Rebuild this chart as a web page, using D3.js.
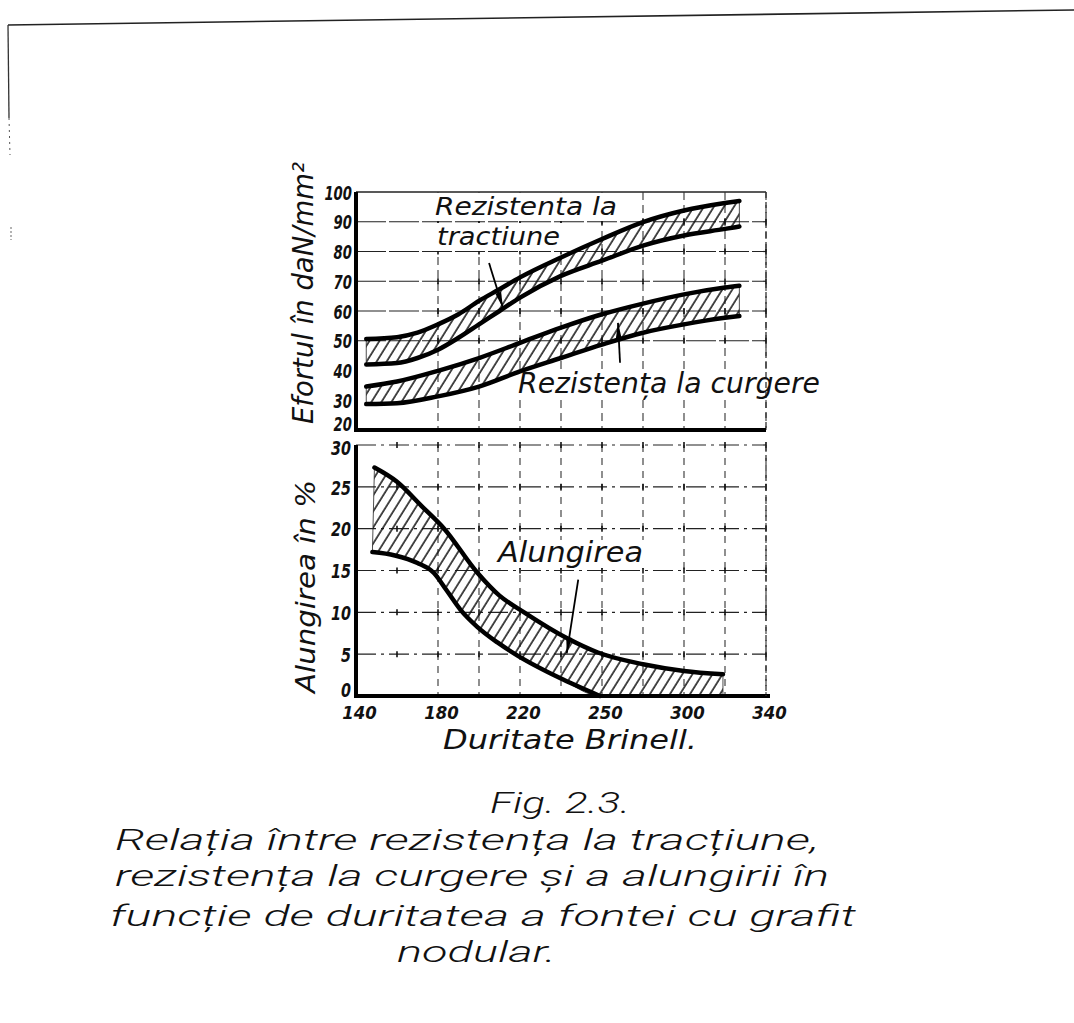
<!DOCTYPE html>
<html lang="ro">
<head>
<meta charset="UTF-8">
<title>Fig. 2.3</title>
<style type="text/css">
  body { margin: 0; background: #fff; }
  svg text { font-family: "DejaVu Sans", "Liberation Sans", sans-serif; font-style: italic; fill: #111; }
  svg text.cap { font-family: "Roboto", "DejaVu Sans", sans-serif; font-weight: 300; }
</style>
<script src="https://cdn.jsdelivr.net/npm/d3@7/dist/d3.min.js"></script>
</head>
<body>
<script type="text/javascript">
// duritate Brinell (HB) pentru fiecare curba
var hbTract = [145, 160, 170, 180, 190, 200, 210, 220, 240, 260, 280, 300, 320, 327];
var tractSus = [50.6, 51.2, 52.7, 55.5, 58.9, 63.4, 67.3, 71.3, 78.0, 84.2, 89.9, 93.8, 96.3, 97.0];
var tractJos = [42.0, 42.5, 44.2, 47.0, 51.0, 55.5, 60.0, 64.5, 71.8, 76.9, 82.0, 85.4, 87.6, 88.4];

var hbCurg = [145, 160, 180, 200, 220, 240, 260, 280, 300, 320, 327];
var curgSus = [34.6, 36.3, 39.9, 44.2, 49.3, 54.4, 58.9, 62.5, 65.6, 67.9, 68.5];
var curgJos = [28.7, 29.0, 31.3, 34.6, 39.7, 44.2, 48.7, 52.7, 55.5, 57.7, 58.3];

var hbAlungSus = [149, 160, 172, 183, 199, 210, 222, 243, 258, 280, 300, 319];
var alungSus = [27.3, 25.6, 22.7, 20.0, 14.8, 12.0, 10.0, 6.9, 5.2, 3.8, 3.0, 2.6];
var hbAlungJos = [148, 159, 170, 178, 184, 191, 199, 209, 219, 239, 259, 319];
var alungJos = [17.2, 16.8, 15.9, 14.7, 12.7, 10.3, 8.3, 6.4, 4.8, 2.2, 0, 0];

// axe si etichete
var xTicks = [140, 180, 220, 260, 300, 340];
var xTickLabels = ['140', '180', '220', '250', '300', '340'];
var gridX = [180, 200, 220, 240, 260, 280, 300, 320, 340];
var crossX = [160, 180, 200, 220, 240, 260, 280, 300, 320, 340];
var topTicks = [20, 30, 40, 50, 60, 70, 80, 90, 100];
var topGridY = [50, 60, 70, 80, 90];
var botTicks = [0, 5, 10, 15, 20, 25, 30];
var botGridY = [5, 10, 15, 20, 25];

var width = 1074, height = 1023;
var svg = d3.select('body').append('svg')
  .attr('width', width)
  .attr('height', height);

var x = d3.scaleLinear().domain([140, 340]).range([356, 766]);
var yTop = d3.scaleLinear().domain([20, 100]).range([430, 192]);
var yBot = d3.scaleLinear().domain([0, 30]).range([696, 445]);

// hasura
svg.append('defs').append('pattern')
  .attr('id', 'hatch')
  .attr('patternUnits', 'userSpaceOnUse')
  .attr('width', 8.5).attr('height', 8.5)
  .attr('patternTransform', 'rotate(32)')
  .append('line')
  .attr('x1', 1).attr('y1', 0).attr('x2', 1).attr('y2', 8.5)
  .attr('stroke', '#111').attr('stroke-width', 1.5);

// chenarul foii
svg.append('path').attr('d', 'M8,25 L1074,10').attr('stroke', '#222').attr('stroke-width', 1.6).attr('fill', 'none');
svg.append('path').attr('d', 'M8,25 L9,118').attr('stroke', '#333').attr('stroke-width', 1.3).attr('fill', 'none');
svg.append('path').attr('d', 'M9,118 L10,155').attr('stroke', '#555').attr('stroke-width', 1).attr('stroke-dasharray', '2,4').attr('fill', 'none');
svg.append('path').attr('d', 'M11,227 L11,240').attr('stroke', '#666').attr('stroke-width', 1).attr('stroke-dasharray', '2,2');

// grila panoului de sus
var g1 = svg.append('g');
g1.selectAll('.hy').data(topGridY).enter().append('line')
  .attr('x1', x(140)).attr('x2', x(340))
  .attr('y1', function(d) { return yTop(d); })
  .attr('y2', function(d) { return yTop(d); })
  .attr('stroke', '#222').attr('stroke-width', 1.2)
  .attr('stroke-dasharray', '30,3');
g1.append('line')
  .attr('x1', x(140)).attr('x2', x(340))
  .attr('y1', yTop(100)).attr('y2', yTop(100))
  .attr('stroke', '#222').attr('stroke-width', 1.3);
g1.selectAll('.vx').data(gridX).enter().append('line')
  .attr('x1', function(d) { return x(d); })
  .attr('x2', function(d) { return x(d); })
  .attr('y1', yTop(100)).attr('y2', yTop(20))
  .attr('stroke', '#333').attr('stroke-width', 1.1)
  .attr('stroke-dasharray', '8,5');

// grila panoului de jos
var g2 = svg.append('g');
g2.selectAll('.hy').data(botGridY).enter().append('line')
  .attr('x1', x(140)).attr('x2', x(340))
  .attr('y1', function(d) { return yBot(d); })
  .attr('y2', function(d) { return yBot(d); })
  .attr('stroke', '#222').attr('stroke-width', 1.2)
  .attr('stroke-dasharray', '20,5,3,5');
g2.append('line')
  .attr('x1', x(140)).attr('x2', x(340))
  .attr('y1', yBot(30)).attr('y2', yBot(30))
  .attr('stroke', '#222').attr('stroke-width', 1.2)
  .attr('stroke-dasharray', '20,5,3,5');
g2.selectAll('.vx').data(gridX).enter().append('line')
  .attr('x1', function(d) { return x(d); })
  .attr('x2', function(d) { return x(d); })
  .attr('y1', yBot(30)).attr('y2', yBot(0))
  .attr('stroke', '#333').attr('stroke-width', 1.1)
  .attr('stroke-dasharray', '7,6');

// cruciulite la intersectii
botGridY.concat([30]).forEach(function(v) {
  g2.selectAll(null).data(crossX).enter().append('line')
    .attr('x1', function(d) { return x(d); })
    .attr('x2', function(d) { return x(d); })
    .attr('y1', yBot(v) - 3).attr('y2', yBot(v) + 3)
    .attr('stroke', '#111').attr('stroke-width', 1.6);
});
topGridY.forEach(function(v) {
  g1.selectAll(null).data(gridX).enter().append('line')
    .attr('x1', function(d) { return x(d); })
    .attr('x2', function(d) { return x(d); })
    .attr('y1', yTop(v) - 3).attr('y2', yTop(v) + 3)
    .attr('stroke', '#111').attr('stroke-width', 1.6);
});

// etichetele din grafic (text, x, linia de baza, lungime, marime)
var labels = [
  ['Rezistenta la', 435, 215, 182, 25],
  ['tractiune', 437, 245, 123, 25],
  ['Rezistența la curgere', 518, 393, 302, 28],
  ['Alungirea', 498, 562, 145, 28]
];
// fundal alb sub etichete (acopera grila)
svg.selectAll('.lblbg').data(labels).enter().append('rect')
  .attr('x', function(d) { return d[1] - 4; })
  .attr('y', function(d) { return d[2] - 22; })
  .attr('width', function(d) { return d[3] + 8; })
  .attr('height', 28)
  .attr('fill', '#fff');

// benzi hasurate
var line = d3.line().curve(d3.curveMonotoneX);
function pts(hb, vals, y) {
  return hb.map(function(h, i) { return [x(h), y(vals[i])]; });
}
function band(hb1, v1, hb2, v2, y) {
  var up = pts(hb1, v1, y);
  var lo = pts(hb2, v2, y).reverse();
  return line(up) + line(lo).replace(/^M/, 'L') + 'Z';
}
var bands = [
  [hbTract, tractSus, hbTract, tractJos, yTop],
  [hbCurg, curgSus, hbCurg, curgJos, yTop],
  [hbAlungSus, alungSus, hbAlungJos, alungJos, yBot]
];
bands.forEach(function(b) {
  svg.append('path')
    .attr('d', band(b[0], b[1], b[2], b[3], b[4]))
    .attr('fill', 'url(#hatch)')
    .attr('stroke', '#222').attr('stroke-width', 0.8);
});

// curbele groase
var curves = [
  [hbTract, tractSus, yTop], [hbTract, tractJos, yTop],
  [hbCurg, curgSus, yTop], [hbCurg, curgJos, yTop],
  [hbAlungSus, alungSus, yBot], [hbAlungJos.slice(0, 11), alungJos.slice(0, 11), yBot]
];
curves.forEach(function(c) {
  svg.append('path')
    .attr('d', line(pts(c[0], c[1], c[2])))
    .attr('fill', 'none')
    .attr('stroke', '#000')
    .attr('stroke-width', 4.5)
    .attr('stroke-linecap', 'round');
});

// axele groase
svg.append('path')
  .attr('d', 'M' + x(140) + ',' + yTop(100) + 'V' + yTop(20) + 'H' + x(340))
  .attr('fill', 'none').attr('stroke', '#000').attr('stroke-width', 4);
svg.append('path')
  .attr('d', 'M' + x(140) + ',' + yBot(30) + 'V' + yBot(0) + 'H' + (x(340) + 4))
  .attr('fill', 'none').attr('stroke', '#000').attr('stroke-width', 4);
svg.append('line')
  .attr('x1', x(340)).attr('x2', x(340)).attr('y1', yTop(100)).attr('y2', yTop(20))
  .attr('stroke', '#333').attr('stroke-width', 1.3).attr('stroke-dasharray', '6,4');
svg.append('line')
  .attr('x1', x(340)).attr('x2', x(340)).attr('y1', yBot(30)).attr('y2', yBot(0))
  .attr('stroke', '#333').attr('stroke-width', 1.3).attr('stroke-dasharray', '6,4');

// etichete pe axe
function styleTicks(g, size, perDigit) {
  g.select('.domain').remove();
  g.selectAll('.tick line').remove();
  g.selectAll('text')
    .attr('font-size', size)
    .attr('font-weight', 'bold')
    .attr('font-family', '"DejaVu Sans", sans-serif')
    .attr('fill', '#111')
    .attr('lengthAdjust', 'spacingAndGlyphs')
    .attr('textLength', function() { return this.textContent.length * perDigit; });
}
var axTop = svg.append('g').attr('transform', 'translate(352,0)')
  .call(d3.axisLeft(yTop).tickValues(topTicks).tickSize(0).tickPadding(0));
styleTicks(axTop, 20, 9.2);
axTop.selectAll('text').attr('dy', '0.36em')
  .attr('y', function(d) { return d === 20 ? -7 : 0; });

var axBot = svg.append('g').attr('transform', 'translate(351,0)')
  .call(d3.axisLeft(yBot).tickValues(botTicks).tickSize(0).tickPadding(0));
styleTicks(axBot, 20, 10);
axBot.selectAll('text').attr('dy', '0.36em')
  .attr('y', function(d) { return d === 0 ? -7 : (d === 30 ? 2 : 0); });

var axX = svg.append('g').attr('transform', 'translate(3,719)')
  .call(d3.axisBottom(x).tickValues(xTicks).tickSize(0).tickPadding(0)
    .tickFormat(function(d, i) { return xTickLabels[i]; }));
styleTicks(axX, 18, 11.5);
axX.selectAll('text').attr('y', 0).attr('dy', 0);

// textul etichetelor
svg.selectAll('.lbl').data(labels).enter().append('text')
  .attr('x', function(d) { return d[1]; })
  .attr('y', function(d) { return d[2]; })
  .attr('font-size', function(d) { return d[4]; })
  .attr('textLength', function(d) { return d[3]; })
  .attr('lengthAdjust', 'spacingAndGlyphs')
  .text(function(d) { return d[0]; });

// sageti
function arrow(h1, v1, h2, v2, y) {
  var x1 = x(h1), y1 = y(v1), x2 = x(h2), y2 = y(v2);
  var a = Math.atan2(y2 - y1, x2 - x1);
  var L = 16, w = 3;
  svg.append('line')
    .attr('x1', x1).attr('y1', y1).attr('x2', x2).attr('y2', y2)
    .attr('stroke', '#000').attr('stroke-width', 1.8);
  var bx = x2 - L * Math.cos(a), by = y2 - L * Math.sin(a);
  svg.append('path')
    .attr('d', 'M' + x2 + ',' + y2 +
      'L' + (bx + w * Math.sin(a)) + ',' + (by - w * Math.cos(a)) +
      'L' + (bx - w * Math.sin(a)) + ',' + (by + w * Math.cos(a)) + 'Z')
    .attr('fill', '#000');
}
arrow(204.9, 76.1, 211.7, 61.0, yTop);
arrow(268.8, 42.6, 267.8, 56.0, yTop);
arrow(248.4, 13.9, 242.8, 5.1, yBot);

// titlurile axelor
svg.append('text')
  .attr('transform', 'translate(313,424) rotate(-90)')
  .attr('font-size', 28)
  .attr('textLength', 262)
  .attr('lengthAdjust', 'spacingAndGlyphs')
  .text('Efortul în daN/mm²');
svg.append('text')
  .attr('transform', 'translate(315,693) rotate(-90)')
  .attr('font-size', 27)
  .attr('textLength', 213)
  .attr('lengthAdjust', 'spacingAndGlyphs')
  .text('Alungirea în %');
svg.append('text')
  .attr('x', 443).attr('y', 749)
  .attr('font-size', 26)
  .attr('textLength', 254)
  .attr('lengthAdjust', 'spacingAndGlyphs')
  .text('Duritate Brinell.');

// legenda figurii
var caption = [
  ['Fig. 2.3.', 490, 813, 140],
  ['Relația între rezistența la tracțiune,', 115, 850, 704],
  ['rezistența la curgere și a alungirii în', 115, 886, 714],
  ['funcție de duritatea a fontei cu grafit', 110, 926, 746],
  ['nodular.', 397, 962, 159]
];
svg.selectAll('.cap').data(caption).enter().append('text')
  .attr('class', 'cap')
  .attr('x', function(d) { return d[1]; })
  .attr('y', function(d) { return d[2]; })
  .attr('textLength', function(d) { return d[3]; })
  .attr('lengthAdjust', 'spacingAndGlyphs')
  .attr('font-size', 30)
  .text(function(d) { return d[0]; });
</script>
</body>
</html>
